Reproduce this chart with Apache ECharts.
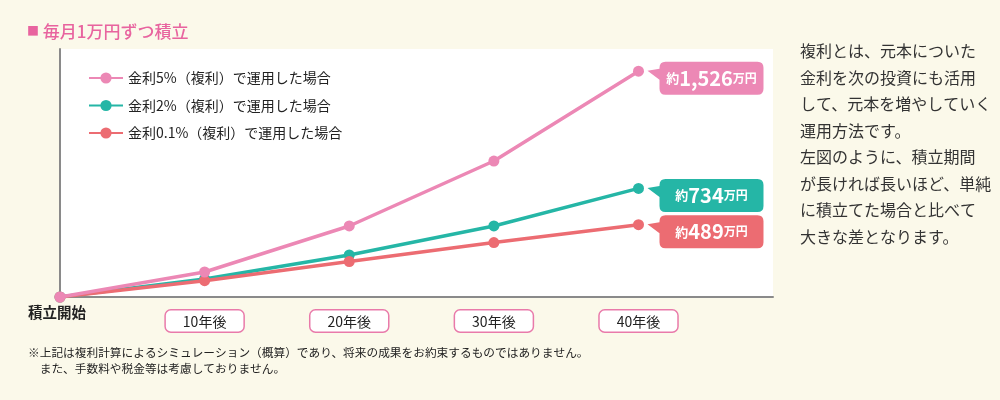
<!DOCTYPE html>
<html>
<head>
<meta charset="utf-8">
<script src="https://cdn.jsdelivr.net/npm/echarts@6/dist/echarts.min.js"></script>
<style>
html,body{margin:0;padding:0;background:#fbf9ea;}
#chart{width:1000px;height:400px;}
</style>
</head>
<body>
<div id="chart"></div>
<script>
// ---- data ----
const years = [0, 10, 20, 30, 40];
const xTickLabels = ['積立開始', '10年後', '20年後', '30年後', '40年後'];
const seriesNames = ['金利5%（複利）で運用した場合', '金利2%（複利）で運用した場合', '金利0.1%（複利）で運用した場合'];
const rate5 = [0, 169, 480, 919, 1526];
const rate2 = [0, 122, 284, 480, 734];
const rate01 = [0, 110, 240, 368, 489];
const calloutValues = ['1,526', '734', '489'];
const titleText = '毎月1万円ずつ積立';
const sideText = '複利とは、元本についた\n金利を次の投資にも活用\nして、元本を増やしていく\n運用方法です。\n左図のように、積立期間\nが長ければ長いほど、単純\nに積立てた場合と比べて\n大きな差となります。';
const noteText = '※上記は複利計算によるシミュレーション（概算）であり、将来の成果をお約束するものではありません。\n　また、手数料や税金等は考慮しておりません。';

const colors = ['#ec88b5', '#25b6a6', '#ec6c72'];
const FONT = '"Noto Sans CJK JP", "Noto Sans", sans-serif';

const chart = echarts.init(document.getElementById('chart'));

const bubblePath = 'path://M0,9 L12,7 L12,6 Q12,0 18,0 L110,0 Q116,0 116,6 L116,27 Q116,33 110,33 L18,33 Q12,33 12,27 L12,18 Z';

function makeSeries(name, values, color, idx, z) {
  return {
    name: name,
    type: 'line',
    z: z,
    data: years.map((y, i) => [y, values[i]]),
    symbol: 'circle',
    symbolSize: 11,
    lineStyle: { color: color, width: 3.5 },
    itemStyle: { color: color },
    emphasis: { disabled: true },
    markPoint: {
      silent: true,
      symbol: bubblePath,
      symbolSize: [116, 33],
      symbolOffset: [67, 7],
      itemStyle: { color: color },
      label: {
        show: true,
        position: 'inside',
        offset: [6, 0],
        formatter: '{a|約}{b|' + calloutValues[idx] + '}{c|万円}',
        rich: {
          a: { color: '#fff', fontSize: 13, fontFamily: FONT, fontWeight: 'bold' },
          b: { color: '#fff', fontSize: 20, fontFamily: FONT, fontWeight: 'bold' },
          c: { color: '#fff', fontSize: 12, fontFamily: FONT, fontWeight: 'bold' }
        }
      },
      data: [{ coord: [years[years.length - 1], values[values.length - 1]] }]
    }
  };
}

const option = {
  backgroundColor: '#fbf9ea',
  animation: false,
  title: {
    text: '{sq|■} ' + titleText,
    left: 22,
    top: 18,
    textStyle: {
      rich: {
        sq: { color: '#e8649f', fontSize: 12, fontFamily: FONT, verticalAlign: 'middle' },
      },
      color: '#e8649f',
      fontSize: 17,
      fontWeight: 500,
      fontFamily: FONT
    }
  },
  grid: {
    left: 60, top: 49, right: 227, bottom: 103,
    show: true, backgroundColor: '#ffffff', borderWidth: 0
  },
  legend: {
    orient: 'vertical',
    left: 88,
    top: 71,
    padding: 0,
    itemWidth: 34,
    itemHeight: 14,
    itemGap: 13.5,
    data: seriesNames,
    textStyle: { color: '#222', fontSize: 14, fontFamily: FONT }
  },
  xAxis: {
    type: 'value',
    min: 0,
    max: 49.3,
    interval: 10,
    axisLine: { show: true, lineStyle: { color: '#8a8a8a', width: 2 } },
    axisTick: { show: false },
    splitLine: { show: false },
    axisLabel: {
      showMaxLabel: false,
      margin: 7,
      formatter: function (v) {
        const i = years.indexOf(v);
        if (i < 0) return '';
        if (i === 0) return '{a|' + xTickLabels[0] + '}';
        return '{s| }\n{b|' + xTickLabels[i] + '}';
      },
      rich: {
        a: { fontSize: 14.5, fontWeight: 'bold', color: '#222', fontFamily: FONT, padding: [0, 6, 0, 0], lineHeight: 16 },
        s: { fontSize: 4, lineHeight: 9 },
        b: {
          fontSize: 14, color: '#222', fontFamily: FONT,
          backgroundColor: '#fff', borderColor: '#e97aaa', borderWidth: 1.5, borderRadius: 5,
          padding: [4, 17, 3, 17], lineHeight: 16
        }
      }
    }
  },
  yAxis: {
    type: 'value',
    min: 0,
    max: 1676,
    axisLine: { show: true, lineStyle: { color: '#8a8a8a', width: 2 } },
    axisTick: { show: false },
    axisLabel: { show: false },
    splitLine: { show: false }
  },
  graphic: [
    {
      type: 'text', left: 800, top: 38,
      style: { text: sideText, fill: '#333', font: '16px ' + FONT, lineHeight: 26.5 }
    },
    {
      type: 'text', left: 28, top: 345,
      style: { text: noteText, fill: '#222', font: '11.7px ' + FONT, lineHeight: 16 }
    }
  ],
  series: [
    makeSeries(seriesNames[0], rate5, colors[0], 0, 4),
    makeSeries(seriesNames[1], rate2, colors[1], 1, 2),
    makeSeries(seriesNames[2], rate01, colors[2], 2, 3)
  ]
};
chart.setOption(option);
</script>
</body>
</html>
